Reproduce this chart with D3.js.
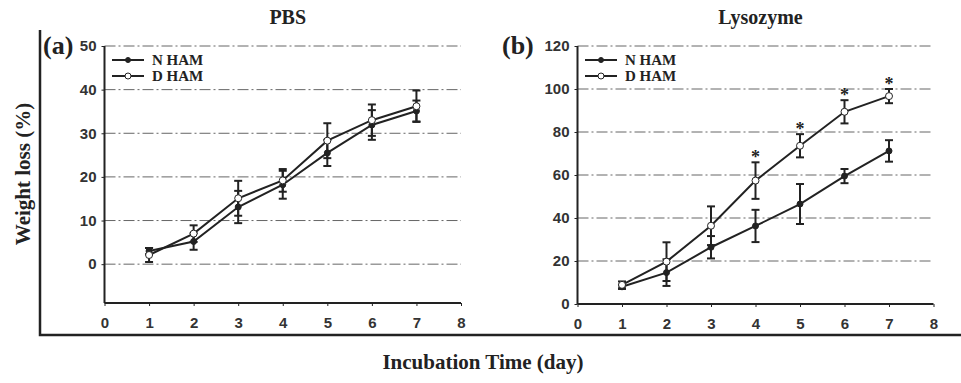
<!DOCTYPE html>
<html>
<head>
<meta charset="utf-8">
<script src="https://cdn.jsdelivr.net/npm/d3@7"></script>
<style>
  body { margin: 0; background: #fff; }
  svg { display: block; }
  .serif { font-family: "Times New Roman", "Liberation Serif", serif; font-weight: bold; fill: #222; }
</style>
</head>
<body>
<svg id="chart" width="961" height="383"></svg>
<script>
// data
var days = [1, 2, 3, 4, 5, 6, 7];
var xTicks = [0, 1, 2, 3, 4, 5, 6, 7, 8];

var pbsN    = [3.0, 5.2, 13.1, 18.2, 25.5, 31.9, 35.1];
var pbsNErr = [0.7, 1.9, 3.7, 3.2, 3.0, 3.4, 2.4];
var pbsD    = [2.1, 7.0, 15.1, 19.2, 28.3, 33.0, 36.2];
var pbsDErr = [1.6, 1.9, 4.0, 2.6, 4.0, 3.6, 3.6];

var lysoN    = [8.0, 14.6, 26.4, 36.3, 46.5, 59.5, 71.2];
var lysoNErr = [1.0, 6.2, 5.2, 7.5, 9.3, 3.3, 5.0];
var lysoD    = [8.9, 19.7, 36.4, 57.4, 73.6, 89.4, 96.7];
var lysoDErr = [1.6, 9.0, 9.0, 8.5, 5.4, 5.4, 3.3];
var lysoStar = [false, false, false, true, true, true, true];

var pbsYTicks  = [0, 10, 20, 30, 40, 50];
var lysoYTicks = [0, 20, 40, 60, 80, 100, 120];

var seriesNames = ["N HAM", "D HAM"];

var svg = d3.select('#chart');
var ink = '#222';

// outer frame (L shape)
svg.append('path')
   .attr('d', 'M40,30 L40,335 L961,335')
   .attr('fill', 'none')
   .attr('stroke', ink)
   .attr('stroke-width', 2.5);

svg.append('text')
   .attr('class', 'serif')
   .attr('transform', 'translate(30,174) rotate(-90)')
   .attr('text-anchor', 'middle')
   .attr('font-size', 21)
   .text('Weight loss (%)');

svg.append('text')
   .attr('class', 'serif')
   .attr('x', 483).attr('y', 369)
   .attr('text-anchor', 'middle')
   .attr('font-size', 21)
   .text('Incubation Time (day)');

function panel(opt){
  var xScale = d3.scaleLinear().domain([0, 8]).range([opt.left, opt.right]);
  var yScale = d3.scaleLinear().domain(opt.yDomain).range([opt.bottom, opt.top]);

  var g = svg.append('g');

  // grid lines, dash-dot
  g.selectAll('.grid')
   .data(opt.yTicks.filter(function(t){ return yScale(t) < opt.bottom - 1; }))
   .enter().append('line')
   .attr('x1', opt.left).attr('x2', opt.right)
   .attr('y1', function(d){ return yScale(d); })
   .attr('y2', function(d){ return yScale(d); })
   .attr('stroke', '#666')
   .attr('stroke-width', 1)
   .attr('stroke-dasharray', '11,3,2,3');

  var xAxis = d3.axisBottom(xScale).tickValues(xTicks).tickSize(3).tickPadding(11).tickFormat(d3.format('d'));
  var yAxis = d3.axisLeft(yScale).tickValues(opt.yTicks).tickSize(3).tickPadding(5).tickFormat(d3.format('d'));

  var xa = g.append('g')
            .attr('transform', 'translate(0,' + opt.bottom + ')')
            .call(xAxis);
  var ya = g.append('g')
            .attr('transform', 'translate(' + opt.left + ',0)')
            .call(yAxis);
  [xa, ya].forEach(function(a){
    a.attr('font-family', 'Arial, "Liberation Sans", sans-serif')
     .attr('font-size', 15)
     .attr('font-weight', 'bold');
    a.selectAll('.tick text').attr('fill', '#333');
    a.select('.domain').attr('stroke', ink).attr('stroke-width', 2);
    a.selectAll('.tick line').attr('stroke', ink);
  });
  ya.select('.domain').attr('d', 'M' + 0 + ',' + opt.top + 'V' + opt.bottom);
  xa.select('.domain').attr('d', 'M' + opt.left + ',0H' + opt.right);

  // title and panel letter
  svg.append('text').attr('class', 'serif')
     .attr('x', (opt.left + opt.right) / 2 + 5).attr('y', 24)
     .attr('text-anchor', 'middle').attr('font-size', 20)
     .text(opt.title);
  svg.append('text').attr('class', 'serif')
     .attr('x', opt.labelX).attr('y', 54)
     .attr('font-size', 26)
     .text(opt.label);

  var series = [
    {vals: opt.n, err: opt.nErr, open: false},
    {vals: opt.d, err: opt.dErr, open: true}
  ];

  var line = d3.line()
               .x(function(d){ return xScale(d.x); })
               .y(function(d){ return yScale(d.y); });

  series.forEach(function(s){
    var pts = days.map(function(x, i){ return {x: x, y: s.vals[i], e: s.err[i]}; });

    g.append('path')
     .datum(pts)
     .attr('fill', 'none')
     .attr('stroke', ink)
     .attr('stroke-width', 2)
     .attr('d', line);

    var eb = g.selectAll(null).data(pts).enter().append('g').attr('stroke', ink).attr('stroke-width', 2);
    eb.append('line')
      .attr('x1', function(d){ return xScale(d.x); })
      .attr('x2', function(d){ return xScale(d.x); })
      .attr('y1', function(d){ return yScale(d.y - d.e); })
      .attr('y2', function(d){ return yScale(d.y + d.e); });
    [-1, 1].forEach(function(sign){
      eb.append('line')
        .attr('x1', function(d){ return xScale(d.x) - 4; })
        .attr('x2', function(d){ return xScale(d.x) + 4; })
        .attr('y1', function(d){ return yScale(d.y + sign * d.e); })
        .attr('y2', function(d){ return yScale(d.y + sign * d.e); });
    });

    g.selectAll(null).data(pts).enter().append('circle')
     .attr('cx', function(d){ return xScale(d.x); })
     .attr('cy', function(d){ return yScale(d.y); })
     .attr('r', s.open ? 3.5 : 3)
     .attr('fill', s.open ? '#fff' : ink)
     .attr('stroke', ink)
     .attr('stroke-width', 1);
  });

  if (opt.stars) {
    g.selectAll(null)
     .data(days.filter(function(d, i){ return opt.stars[i]; }))
     .enter().append('text')
     .attr('class', 'serif')
     .attr('x', function(d){ return xScale(d); })
     .attr('y', function(d){ var i = days.indexOf(d); return yScale(opt.d[i] + opt.dErr[i]) + 1; })
     .attr('text-anchor', 'middle')
     .attr('font-size', 18)
     .attr('fill', '#333')
     .text('*');
  }

  // legend
  var leg = g.selectAll('.leg').data(seriesNames).enter().append('g')
             .attr('transform', function(d, i){ return 'translate(' + opt.legX + ',' + (opt.top + 14 + i * 16) + ')'; });
  leg.append('line').attr('x1', 0).attr('x2', 32).attr('stroke', ink).attr('stroke-width', 2);
  leg.append('circle').attr('cx', 16).attr('r', function(d, i){ return i ? 3 : 2.5; })
     .attr('fill', function(d, i){ return i ? '#fff' : ink; })
     .attr('stroke', ink).attr('stroke-width', 1);
  leg.append('text').attr('class', 'serif')
     .attr('x', 40).attr('y', 5).attr('font-size', 15)
     .text(function(d){ return d; });
}

panel({
  title: 'PBS', label: '(a)', labelX: 43,
  left: 104.5, right: 461, top: 46, bottom: 303,
  yDomain: [-8.9, 50], yTicks: pbsYTicks,
  n: pbsN, nErr: pbsNErr, d: pbsD, dErr: pbsDErr,
  legX: 112
});

panel({
  title: 'Lysozyme', label: '(b)', labelX: 502,
  left: 577.5, right: 933.5, top: 46, bottom: 304,
  yDomain: [0, 120], yTicks: lysoYTicks,
  n: lysoN, nErr: lysoNErr, d: lysoD, dErr: lysoDErr, stars: lysoStar,
  legX: 585
});
</script>
</body>
</html>
